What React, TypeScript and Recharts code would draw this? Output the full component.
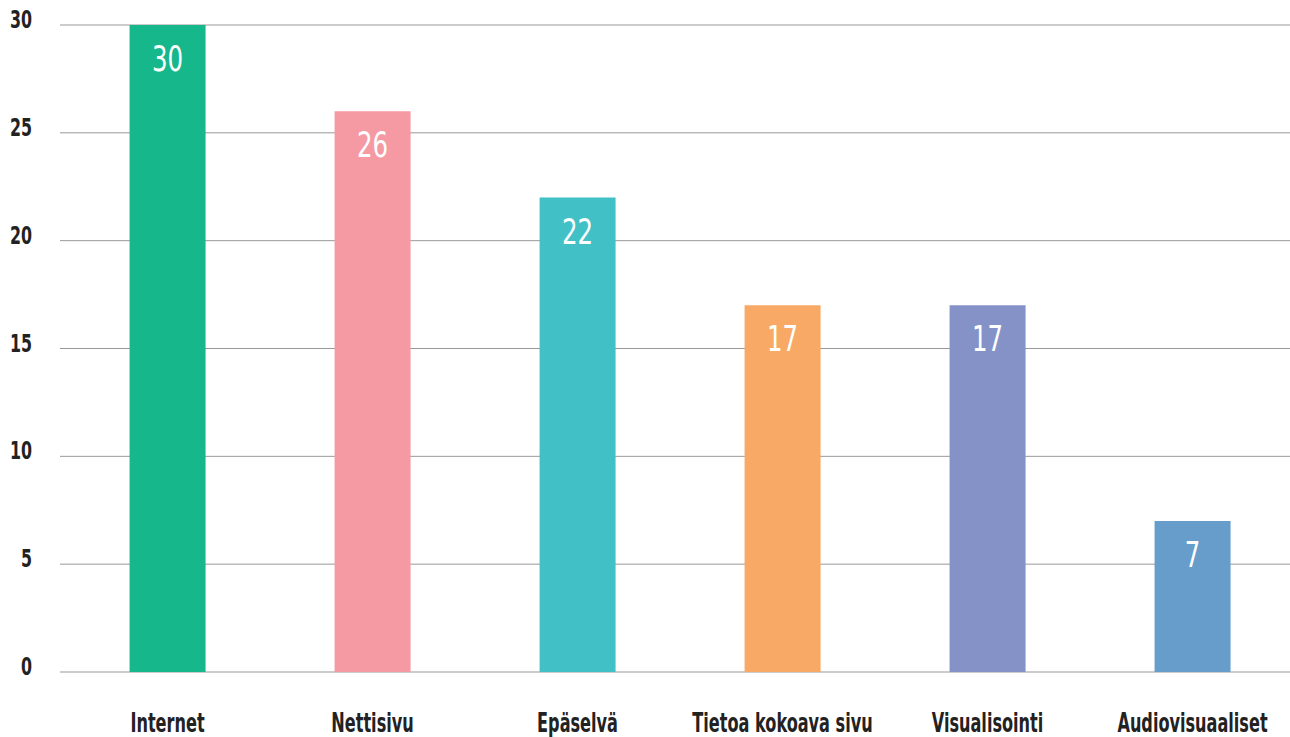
import React from 'react';
import { BarChart, Bar, XAxis, YAxis, CartesianGrid, LabelList, Cell } from 'recharts';

// Categories and their counts
const categories = ['Internet', 'Nettisivu', 'Epäselvä', 'Tietoa kokoava sivu', 'Visualisointi', 'Audiovisuaaliset'];
const counts = [30, 26, 22, 17, 17, 7];
const barColors = ['#17b78c', '#f599a3', '#41c0c6', '#f8a965', '#8592c8', '#679dca'];
const yTicks = [0, 5, 10, 15, 20, 25, 30];

// no condensed display font available, so squeeze DejaVu horizontally
const FONT = '"DejaVu Sans", sans-serif';

const data = categories.map((name, i) => ({ name, value: counts[i] }));

// Y axis tick, right aligned at x=32
const renderYTick = (props: any) => {
  const { y, payload } = props;
  return (
    <text
      transform={`translate(32,${y + 3}) scale(0.66,1)`}
      textAnchor="end"
      fill="#222"
      fontFamily={FONT}
      fontWeight="bold"
      fontSize={24}
    >
      {payload.value}
    </text>
  );
};

// Category labels under the bars
const renderXTick = (props: any) => {
  const { x, y, payload } = props;
  return (
    <text
      transform={`translate(${x},${y + 58}) scale(0.62,1)`}
      textAnchor="middle"
      fill="#222"
      fontFamily={FONT}
      fontWeight="bold"
      fontSize={26}
    >
      {payload.value}
    </text>
  );
};

// Value label inside the top of each bar
const renderValue = (props: any) => {
  const { x, y, width, value } = props;
  return (
    <text
      transform={`translate(${x + width / 2},${y + 46}) scale(0.68,1)`}
      textAnchor="middle"
      fill="#fff"
      fontFamily={FONT}
      fontSize={36}
    >
      {value}
    </text>
  );
};

const App: React.FC = () => {
  return (
    <div style={{ position: 'absolute', left: 0, top: 0, width: 1290, height: 737, overflow: 'hidden', background: '#fff' }}>
      <BarChart
        width={1295}
        height={737}
        data={data}
        margin={{ top: 25, right: 0, left: 0, bottom: 0 }}
        barCategoryGap="31.5%"
      >
        <CartesianGrid vertical={false} stroke="#999" strokeWidth={1} x={60} width={1235} />
        <XAxis dataKey="name" axisLine={false} tickLine={false} tickSize={0} height={65} tick={renderXTick} interval={0} />
        <YAxis
          domain={[0, 30]}
          ticks={yTicks}
          width={65}
          axisLine={false}
          tickLine={false}
          tick={renderYTick}
          interval={0}
        />
        <Bar dataKey="value" isAnimationActive={false}>
          {data.map((d, i) => (
            <Cell key={d.name} fill={barColors[i]} />
          ))}
          <LabelList dataKey="value" content={renderValue} />
        </Bar>
      </BarChart>
    </div>
  );
};

export default App;
